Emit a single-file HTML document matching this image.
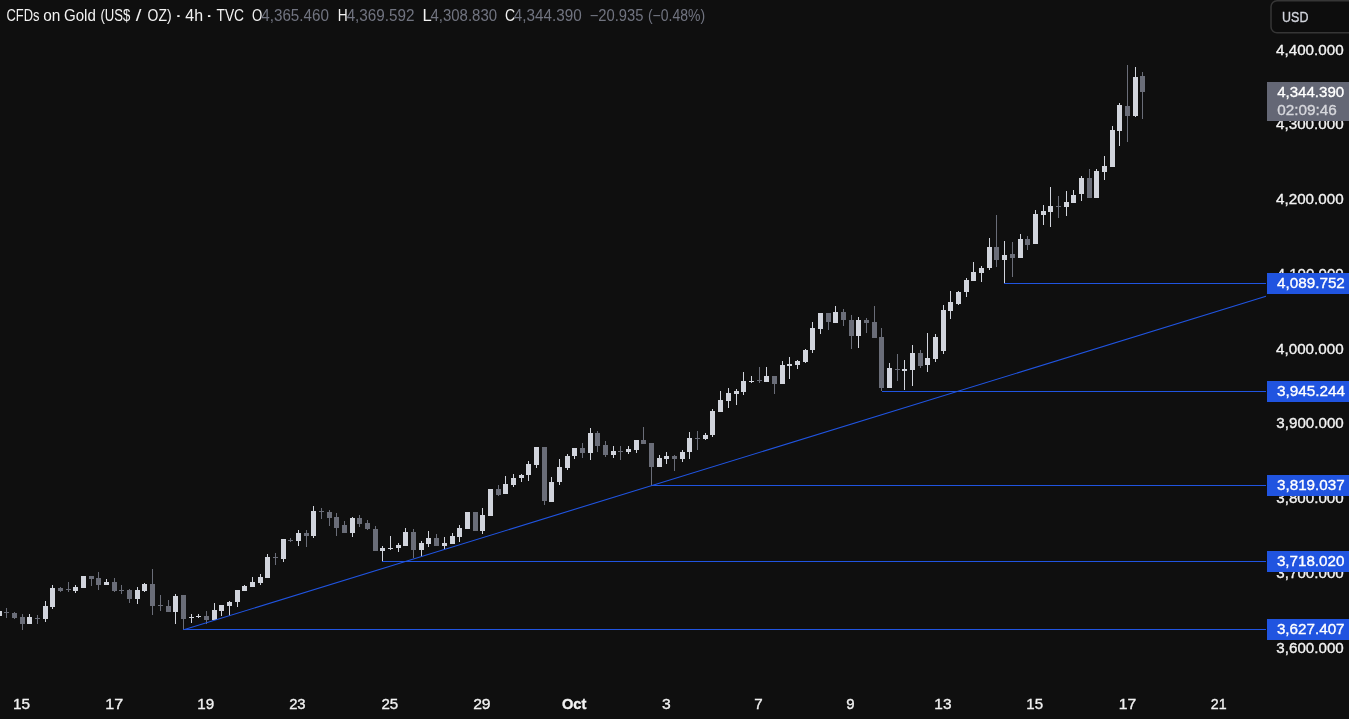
<!DOCTYPE html>
<html><head><meta charset="utf-8"><style>
html,body{margin:0;padding:0;background:#0f0f0f;width:1349px;height:719px;overflow:hidden;}
svg{position:absolute;left:0;top:0;display:block;filter:grayscale(0);}
text{font-family:"Liberation Sans", sans-serif;stroke-width:0.35px;paint-order:stroke;}
</style></head><body>
<svg width="1349" height="719" viewBox="0 0 1349 719" shape-rendering="crispEdges">
<rect x="0" y="0" width="1349" height="719" fill="#0f0f0f"/>
<g>
<rect x="-1" y="611" width="1" height="5" fill="#d1d4dc"/>
<rect x="-3" y="611" width="5" height="5" fill="#d1d4dc"/>
<rect x="6" y="608" width="1" height="10" fill="#6a6d78"/>
<rect x="4" y="612" width="5" height="1" fill="#6a6d78"/>
<rect x="14" y="612" width="1" height="7" fill="#6a6d78"/>
<rect x="12" y="613" width="5" height="5" fill="#6a6d78"/>
<rect x="22" y="614" width="1" height="16" fill="#6a6d78"/>
<rect x="20" y="617" width="5" height="7" fill="#6a6d78"/>
<rect x="29" y="614" width="1" height="10" fill="#d1d4dc"/>
<rect x="27" y="617" width="5" height="7" fill="#d1d4dc"/>
<rect x="37" y="615" width="1" height="9" fill="#6a6d78"/>
<rect x="35" y="618" width="5" height="1" fill="#6a6d78"/>
<rect x="45" y="601" width="1" height="21" fill="#d1d4dc"/>
<rect x="43" y="606" width="5" height="13" fill="#d1d4dc"/>
<rect x="52" y="585" width="1" height="24" fill="#d1d4dc"/>
<rect x="50" y="588" width="5" height="19" fill="#d1d4dc"/>
<rect x="60" y="587" width="1" height="5" fill="#6a6d78"/>
<rect x="58" y="588" width="5" height="3" fill="#6a6d78"/>
<rect x="68" y="582" width="1" height="10" fill="#6a6d78"/>
<rect x="66" y="589" width="5" height="1" fill="#6a6d78"/>
<rect x="75" y="585" width="1" height="8" fill="#d1d4dc"/>
<rect x="73" y="587" width="5" height="4" fill="#d1d4dc"/>
<rect x="83" y="576" width="1" height="12" fill="#d1d4dc"/>
<rect x="81" y="576" width="5" height="12" fill="#d1d4dc"/>
<rect x="91" y="576" width="1" height="10" fill="#6a6d78"/>
<rect x="89" y="576" width="5" height="3" fill="#6a6d78"/>
<rect x="98" y="572" width="1" height="18" fill="#6a6d78"/>
<rect x="96" y="578" width="5" height="7" fill="#6a6d78"/>
<rect x="106" y="579" width="1" height="6" fill="#d1d4dc"/>
<rect x="104" y="582" width="5" height="3" fill="#d1d4dc"/>
<rect x="114" y="578" width="1" height="14" fill="#6a6d78"/>
<rect x="112" y="582" width="5" height="9" fill="#6a6d78"/>
<rect x="121" y="585" width="1" height="9" fill="#6a6d78"/>
<rect x="119" y="590" width="5" height="1" fill="#6a6d78"/>
<rect x="129" y="589" width="1" height="14" fill="#6a6d78"/>
<rect x="127" y="590" width="5" height="9" fill="#6a6d78"/>
<rect x="137" y="587" width="1" height="17" fill="#d1d4dc"/>
<rect x="135" y="590" width="5" height="9" fill="#d1d4dc"/>
<rect x="144" y="583" width="1" height="9" fill="#d1d4dc"/>
<rect x="142" y="584" width="5" height="7" fill="#d1d4dc"/>
<rect x="152" y="569" width="1" height="46" fill="#6a6d78"/>
<rect x="150" y="584" width="5" height="22" fill="#6a6d78"/>
<rect x="160" y="595" width="1" height="16" fill="#6a6d78"/>
<rect x="158" y="605" width="5" height="1" fill="#6a6d78"/>
<rect x="168" y="600" width="1" height="12" fill="#6a6d78"/>
<rect x="166" y="606" width="5" height="6" fill="#6a6d78"/>
<rect x="175" y="594" width="1" height="30" fill="#d1d4dc"/>
<rect x="173" y="596" width="5" height="16" fill="#d1d4dc"/>
<rect x="183" y="595" width="1" height="35" fill="#6a6d78"/>
<rect x="181" y="595" width="5" height="24" fill="#6a6d78"/>
<rect x="191" y="614" width="1" height="9" fill="#d1d4dc"/>
<rect x="189" y="617" width="5" height="1" fill="#d1d4dc"/>
<rect x="198" y="614" width="1" height="4" fill="#d1d4dc"/>
<rect x="196" y="616" width="5" height="1" fill="#d1d4dc"/>
<rect x="206" y="611" width="1" height="13" fill="#6a6d78"/>
<rect x="204" y="616" width="5" height="4" fill="#6a6d78"/>
<rect x="214" y="603" width="1" height="17" fill="#d1d4dc"/>
<rect x="212" y="610" width="5" height="10" fill="#d1d4dc"/>
<rect x="221" y="605" width="1" height="11" fill="#d1d4dc"/>
<rect x="219" y="605" width="5" height="6" fill="#d1d4dc"/>
<rect x="229" y="601" width="1" height="15" fill="#d1d4dc"/>
<rect x="227" y="602" width="5" height="4" fill="#d1d4dc"/>
<rect x="237" y="590" width="1" height="17" fill="#d1d4dc"/>
<rect x="235" y="590" width="5" height="12" fill="#d1d4dc"/>
<rect x="244" y="585" width="1" height="6" fill="#d1d4dc"/>
<rect x="242" y="586" width="5" height="5" fill="#d1d4dc"/>
<rect x="252" y="577" width="1" height="10" fill="#d1d4dc"/>
<rect x="250" y="582" width="5" height="5" fill="#d1d4dc"/>
<rect x="260" y="574" width="1" height="11" fill="#d1d4dc"/>
<rect x="258" y="577" width="5" height="6" fill="#d1d4dc"/>
<rect x="267" y="554" width="1" height="24" fill="#d1d4dc"/>
<rect x="265" y="557" width="5" height="21" fill="#d1d4dc"/>
<rect x="275" y="553" width="1" height="12" fill="#6a6d78"/>
<rect x="273" y="557" width="5" height="1" fill="#6a6d78"/>
<rect x="283" y="539" width="1" height="23" fill="#d1d4dc"/>
<rect x="281" y="539" width="5" height="20" fill="#d1d4dc"/>
<rect x="290" y="538" width="1" height="4" fill="#6a6d78"/>
<rect x="288" y="540" width="5" height="1" fill="#6a6d78"/>
<rect x="298" y="530" width="1" height="16" fill="#d1d4dc"/>
<rect x="296" y="533" width="5" height="8" fill="#d1d4dc"/>
<rect x="306" y="530" width="1" height="17" fill="#6a6d78"/>
<rect x="304" y="533" width="5" height="3" fill="#6a6d78"/>
<rect x="313" y="506" width="1" height="32" fill="#d1d4dc"/>
<rect x="311" y="511" width="5" height="25" fill="#d1d4dc"/>
<rect x="321" y="508" width="1" height="11" fill="#6a6d78"/>
<rect x="319" y="511" width="5" height="1" fill="#6a6d78"/>
<rect x="329" y="510" width="1" height="16" fill="#6a6d78"/>
<rect x="327" y="512" width="5" height="6" fill="#6a6d78"/>
<rect x="336" y="513" width="1" height="23" fill="#6a6d78"/>
<rect x="334" y="517" width="5" height="11" fill="#6a6d78"/>
<rect x="344" y="521" width="1" height="12" fill="#6a6d78"/>
<rect x="342" y="525" width="5" height="8" fill="#6a6d78"/>
<rect x="352" y="517" width="1" height="20" fill="#d1d4dc"/>
<rect x="350" y="518" width="5" height="15" fill="#d1d4dc"/>
<rect x="359" y="515" width="1" height="12" fill="#6a6d78"/>
<rect x="357" y="518" width="5" height="6" fill="#6a6d78"/>
<rect x="367" y="520" width="1" height="10" fill="#6a6d78"/>
<rect x="365" y="523" width="5" height="6" fill="#6a6d78"/>
<rect x="375" y="526" width="1" height="25" fill="#6a6d78"/>
<rect x="373" y="529" width="5" height="22" fill="#6a6d78"/>
<rect x="382" y="546" width="1" height="15" fill="#d1d4dc"/>
<rect x="380" y="548" width="5" height="3" fill="#d1d4dc"/>
<rect x="390" y="536" width="1" height="14" fill="#d1d4dc"/>
<rect x="388" y="548" width="5" height="1" fill="#d1d4dc"/>
<rect x="398" y="543" width="1" height="9" fill="#d1d4dc"/>
<rect x="396" y="545" width="5" height="3" fill="#d1d4dc"/>
<rect x="405" y="528" width="1" height="18" fill="#d1d4dc"/>
<rect x="403" y="532" width="5" height="14" fill="#d1d4dc"/>
<rect x="413" y="529" width="1" height="29" fill="#6a6d78"/>
<rect x="411" y="532" width="5" height="18" fill="#6a6d78"/>
<rect x="421" y="541" width="1" height="16" fill="#d1d4dc"/>
<rect x="419" y="543" width="5" height="7" fill="#d1d4dc"/>
<rect x="428" y="531" width="1" height="16" fill="#d1d4dc"/>
<rect x="426" y="538" width="5" height="6" fill="#d1d4dc"/>
<rect x="436" y="534" width="1" height="12" fill="#6a6d78"/>
<rect x="434" y="538" width="5" height="8" fill="#6a6d78"/>
<rect x="444" y="537" width="1" height="12" fill="#d1d4dc"/>
<rect x="442" y="543" width="5" height="3" fill="#d1d4dc"/>
<rect x="452" y="533" width="1" height="11" fill="#d1d4dc"/>
<rect x="450" y="536" width="5" height="8" fill="#d1d4dc"/>
<rect x="459" y="525" width="1" height="17" fill="#d1d4dc"/>
<rect x="457" y="528" width="5" height="9" fill="#d1d4dc"/>
<rect x="467" y="512" width="1" height="17" fill="#d1d4dc"/>
<rect x="465" y="512" width="5" height="17" fill="#d1d4dc"/>
<rect x="475" y="512" width="1" height="19" fill="#6a6d78"/>
<rect x="473" y="512" width="5" height="19" fill="#6a6d78"/>
<rect x="482" y="508" width="1" height="26" fill="#d1d4dc"/>
<rect x="480" y="515" width="5" height="16" fill="#d1d4dc"/>
<rect x="490" y="489" width="1" height="27" fill="#d1d4dc"/>
<rect x="488" y="489" width="5" height="27" fill="#d1d4dc"/>
<rect x="498" y="485" width="1" height="11" fill="#6a6d78"/>
<rect x="496" y="489" width="5" height="6" fill="#6a6d78"/>
<rect x="505" y="476" width="1" height="18" fill="#d1d4dc"/>
<rect x="503" y="484" width="5" height="10" fill="#d1d4dc"/>
<rect x="513" y="474" width="1" height="13" fill="#d1d4dc"/>
<rect x="511" y="478" width="5" height="7" fill="#d1d4dc"/>
<rect x="521" y="474" width="1" height="8" fill="#d1d4dc"/>
<rect x="519" y="475" width="5" height="3" fill="#d1d4dc"/>
<rect x="528" y="461" width="1" height="20" fill="#d1d4dc"/>
<rect x="526" y="464" width="5" height="11" fill="#d1d4dc"/>
<rect x="536" y="447" width="1" height="21" fill="#d1d4dc"/>
<rect x="534" y="447" width="5" height="18" fill="#d1d4dc"/>
<rect x="544" y="447" width="1" height="58" fill="#6a6d78"/>
<rect x="542" y="447" width="5" height="54" fill="#6a6d78"/>
<rect x="551" y="477" width="1" height="25" fill="#d1d4dc"/>
<rect x="549" y="482" width="5" height="20" fill="#d1d4dc"/>
<rect x="559" y="459" width="1" height="26" fill="#d1d4dc"/>
<rect x="557" y="467" width="5" height="15" fill="#d1d4dc"/>
<rect x="567" y="454" width="1" height="16" fill="#d1d4dc"/>
<rect x="565" y="456" width="5" height="12" fill="#d1d4dc"/>
<rect x="574" y="448" width="1" height="11" fill="#d1d4dc"/>
<rect x="572" y="448" width="5" height="8" fill="#d1d4dc"/>
<rect x="582" y="443" width="1" height="15" fill="#6a6d78"/>
<rect x="580" y="448" width="5" height="5" fill="#6a6d78"/>
<rect x="590" y="428" width="1" height="32" fill="#d1d4dc"/>
<rect x="588" y="433" width="5" height="20" fill="#d1d4dc"/>
<rect x="597" y="431" width="1" height="21" fill="#6a6d78"/>
<rect x="595" y="433" width="5" height="13" fill="#6a6d78"/>
<rect x="605" y="441" width="1" height="16" fill="#6a6d78"/>
<rect x="603" y="445" width="5" height="10" fill="#6a6d78"/>
<rect x="613" y="446" width="1" height="12" fill="#d1d4dc"/>
<rect x="611" y="451" width="5" height="4" fill="#d1d4dc"/>
<rect x="620" y="446" width="1" height="14" fill="#6a6d78"/>
<rect x="618" y="451" width="5" height="1" fill="#6a6d78"/>
<rect x="628" y="446" width="1" height="8" fill="#d1d4dc"/>
<rect x="626" y="449" width="5" height="3" fill="#d1d4dc"/>
<rect x="636" y="440" width="1" height="13" fill="#d1d4dc"/>
<rect x="634" y="440" width="5" height="10" fill="#d1d4dc"/>
<rect x="643" y="427" width="1" height="17" fill="#6a6d78"/>
<rect x="641" y="440" width="5" height="4" fill="#6a6d78"/>
<rect x="651" y="443" width="1" height="42" fill="#6a6d78"/>
<rect x="649" y="443" width="5" height="24" fill="#6a6d78"/>
<rect x="659" y="455" width="1" height="12" fill="#d1d4dc"/>
<rect x="657" y="458" width="5" height="9" fill="#d1d4dc"/>
<rect x="666" y="452" width="1" height="12" fill="#d1d4dc"/>
<rect x="664" y="456" width="5" height="3" fill="#d1d4dc"/>
<rect x="674" y="455" width="1" height="16" fill="#6a6d78"/>
<rect x="672" y="456" width="5" height="3" fill="#6a6d78"/>
<rect x="682" y="450" width="1" height="12" fill="#d1d4dc"/>
<rect x="680" y="452" width="5" height="7" fill="#d1d4dc"/>
<rect x="689" y="432" width="1" height="27" fill="#d1d4dc"/>
<rect x="687" y="438" width="5" height="14" fill="#d1d4dc"/>
<rect x="697" y="431" width="1" height="19" fill="#6a6d78"/>
<rect x="695" y="438" width="5" height="1" fill="#6a6d78"/>
<rect x="705" y="433" width="1" height="7" fill="#d1d4dc"/>
<rect x="703" y="435" width="5" height="4" fill="#d1d4dc"/>
<rect x="712" y="409" width="1" height="28" fill="#d1d4dc"/>
<rect x="710" y="411" width="5" height="24" fill="#d1d4dc"/>
<rect x="720" y="391" width="1" height="21" fill="#d1d4dc"/>
<rect x="718" y="400" width="5" height="12" fill="#d1d4dc"/>
<rect x="728" y="388" width="1" height="20" fill="#d1d4dc"/>
<rect x="726" y="393" width="5" height="8" fill="#d1d4dc"/>
<rect x="736" y="389" width="1" height="16" fill="#d1d4dc"/>
<rect x="734" y="391" width="5" height="3" fill="#d1d4dc"/>
<rect x="743" y="372" width="1" height="23" fill="#d1d4dc"/>
<rect x="741" y="381" width="5" height="11" fill="#d1d4dc"/>
<rect x="751" y="376" width="1" height="7" fill="#d1d4dc"/>
<rect x="749" y="381" width="5" height="1" fill="#d1d4dc"/>
<rect x="759" y="367" width="1" height="16" fill="#6a6d78"/>
<rect x="757" y="380" width="5" height="1" fill="#6a6d78"/>
<rect x="766" y="367" width="1" height="15" fill="#d1d4dc"/>
<rect x="764" y="376" width="5" height="6" fill="#d1d4dc"/>
<rect x="774" y="376" width="1" height="18" fill="#6a6d78"/>
<rect x="772" y="376" width="5" height="8" fill="#6a6d78"/>
<rect x="782" y="361" width="1" height="23" fill="#d1d4dc"/>
<rect x="780" y="365" width="5" height="19" fill="#d1d4dc"/>
<rect x="789" y="357" width="1" height="22" fill="#d1d4dc"/>
<rect x="787" y="364" width="5" height="2" fill="#d1d4dc"/>
<rect x="797" y="360" width="1" height="9" fill="#d1d4dc"/>
<rect x="795" y="361" width="5" height="4" fill="#d1d4dc"/>
<rect x="805" y="349" width="1" height="14" fill="#d1d4dc"/>
<rect x="803" y="350" width="5" height="12" fill="#d1d4dc"/>
<rect x="812" y="322" width="1" height="31" fill="#d1d4dc"/>
<rect x="810" y="328" width="5" height="22" fill="#d1d4dc"/>
<rect x="820" y="313" width="1" height="21" fill="#d1d4dc"/>
<rect x="818" y="313" width="5" height="16" fill="#d1d4dc"/>
<rect x="828" y="313" width="1" height="17" fill="#6a6d78"/>
<rect x="826" y="313" width="5" height="9" fill="#6a6d78"/>
<rect x="835" y="306" width="1" height="17" fill="#d1d4dc"/>
<rect x="833" y="312" width="5" height="11" fill="#d1d4dc"/>
<rect x="843" y="309" width="1" height="17" fill="#6a6d78"/>
<rect x="841" y="312" width="5" height="8" fill="#6a6d78"/>
<rect x="851" y="315" width="1" height="34" fill="#6a6d78"/>
<rect x="849" y="320" width="5" height="16" fill="#6a6d78"/>
<rect x="858" y="317" width="1" height="31" fill="#d1d4dc"/>
<rect x="856" y="320" width="5" height="16" fill="#d1d4dc"/>
<rect x="866" y="318" width="1" height="15" fill="#6a6d78"/>
<rect x="864" y="320" width="5" height="3" fill="#6a6d78"/>
<rect x="874" y="306" width="1" height="32" fill="#6a6d78"/>
<rect x="872" y="322" width="5" height="16" fill="#6a6d78"/>
<rect x="881" y="328" width="1" height="63" fill="#6a6d78"/>
<rect x="879" y="337" width="5" height="51" fill="#6a6d78"/>
<rect x="889" y="363" width="1" height="25" fill="#d1d4dc"/>
<rect x="887" y="368" width="5" height="20" fill="#d1d4dc"/>
<rect x="897" y="354" width="1" height="27" fill="#6a6d78"/>
<rect x="895" y="369" width="5" height="1" fill="#6a6d78"/>
<rect x="904" y="360" width="1" height="30" fill="#d1d4dc"/>
<rect x="902" y="369" width="5" height="2" fill="#d1d4dc"/>
<rect x="912" y="345" width="1" height="41" fill="#d1d4dc"/>
<rect x="910" y="353" width="5" height="17" fill="#d1d4dc"/>
<rect x="920" y="350" width="1" height="18" fill="#6a6d78"/>
<rect x="918" y="353" width="5" height="13" fill="#6a6d78"/>
<rect x="927" y="333" width="1" height="39" fill="#d1d4dc"/>
<rect x="925" y="358" width="5" height="7" fill="#d1d4dc"/>
<rect x="935" y="334" width="1" height="28" fill="#d1d4dc"/>
<rect x="933" y="337" width="5" height="22" fill="#d1d4dc"/>
<rect x="943" y="305" width="1" height="49" fill="#d1d4dc"/>
<rect x="941" y="310" width="5" height="41" fill="#d1d4dc"/>
<rect x="950" y="291" width="1" height="28" fill="#d1d4dc"/>
<rect x="948" y="302" width="5" height="9" fill="#d1d4dc"/>
<rect x="958" y="291" width="1" height="14" fill="#d1d4dc"/>
<rect x="956" y="292" width="5" height="12" fill="#d1d4dc"/>
<rect x="966" y="278" width="1" height="19" fill="#d1d4dc"/>
<rect x="964" y="280" width="5" height="12" fill="#d1d4dc"/>
<rect x="973" y="262" width="1" height="19" fill="#d1d4dc"/>
<rect x="971" y="272" width="5" height="9" fill="#d1d4dc"/>
<rect x="981" y="266" width="1" height="16" fill="#d1d4dc"/>
<rect x="979" y="268" width="5" height="5" fill="#d1d4dc"/>
<rect x="989" y="238" width="1" height="32" fill="#d1d4dc"/>
<rect x="987" y="247" width="5" height="21" fill="#d1d4dc"/>
<rect x="996" y="215" width="1" height="52" fill="#6a6d78"/>
<rect x="994" y="247" width="5" height="13" fill="#6a6d78"/>
<rect x="1004" y="241" width="1" height="42" fill="#d1d4dc"/>
<rect x="1002" y="255" width="5" height="5" fill="#d1d4dc"/>
<rect x="1012" y="242" width="1" height="35" fill="#6a6d78"/>
<rect x="1010" y="254" width="5" height="4" fill="#6a6d78"/>
<rect x="1020" y="234" width="1" height="24" fill="#d1d4dc"/>
<rect x="1018" y="239" width="5" height="19" fill="#d1d4dc"/>
<rect x="1027" y="236" width="1" height="14" fill="#6a6d78"/>
<rect x="1025" y="239" width="5" height="6" fill="#6a6d78"/>
<rect x="1035" y="210" width="1" height="34" fill="#d1d4dc"/>
<rect x="1033" y="214" width="5" height="30" fill="#d1d4dc"/>
<rect x="1043" y="205" width="1" height="20" fill="#d1d4dc"/>
<rect x="1041" y="211" width="5" height="4" fill="#d1d4dc"/>
<rect x="1050" y="187" width="1" height="40" fill="#d1d4dc"/>
<rect x="1048" y="206" width="5" height="6" fill="#d1d4dc"/>
<rect x="1058" y="196" width="1" height="22" fill="#6a6d78"/>
<rect x="1056" y="206" width="5" height="1" fill="#6a6d78"/>
<rect x="1066" y="191" width="1" height="25" fill="#d1d4dc"/>
<rect x="1064" y="202" width="5" height="5" fill="#d1d4dc"/>
<rect x="1073" y="190" width="1" height="13" fill="#d1d4dc"/>
<rect x="1071" y="195" width="5" height="8" fill="#d1d4dc"/>
<rect x="1081" y="176" width="1" height="25" fill="#d1d4dc"/>
<rect x="1079" y="178" width="5" height="16" fill="#d1d4dc"/>
<rect x="1089" y="169" width="1" height="29" fill="#6a6d78"/>
<rect x="1087" y="178" width="5" height="20" fill="#6a6d78"/>
<rect x="1096" y="169" width="1" height="29" fill="#d1d4dc"/>
<rect x="1094" y="171" width="5" height="27" fill="#d1d4dc"/>
<rect x="1104" y="156" width="1" height="24" fill="#d1d4dc"/>
<rect x="1102" y="166" width="5" height="6" fill="#d1d4dc"/>
<rect x="1112" y="126" width="1" height="41" fill="#d1d4dc"/>
<rect x="1110" y="130" width="5" height="37" fill="#d1d4dc"/>
<rect x="1119" y="103" width="1" height="43" fill="#d1d4dc"/>
<rect x="1117" y="105" width="5" height="26" fill="#d1d4dc"/>
<rect x="1127" y="65" width="1" height="77" fill="#6a6d78"/>
<rect x="1125" y="106" width="5" height="10" fill="#6a6d78"/>
<rect x="1135" y="67" width="1" height="50" fill="#d1d4dc"/>
<rect x="1133" y="77" width="5" height="39" fill="#d1d4dc"/>
<rect x="1142" y="72" width="1" height="47" fill="#6a6d78"/>
<rect x="1140" y="76" width="5" height="16" fill="#6a6d78"/>
</g>
<g>
<line x1="184.5" y1="629.5" x2="1266" y2="296.3" stroke="#2054e0" stroke-width="1.1" shape-rendering="auto"/>
<rect x="1004" y="283" width="262" height="1" fill="#2054e0"/>
<rect x="882" y="391" width="384" height="1" fill="#2054e0"/>
<rect x="651" y="485" width="615" height="1" fill="#2054e0"/>
<rect x="382" y="561" width="884" height="1" fill="#2054e0"/>
<rect x="183" y="629" width="1083" height="1" fill="#2054e0"/>
</g>
<g>
<text x="6.46" y="20.6" font-size="15.6" fill="#f2f2f2" textLength="33.01" lengthAdjust="spacingAndGlyphs">CFDs</text>
<text x="43.27" y="20.6" font-size="15.6" fill="#f2f2f2" textLength="17.19" lengthAdjust="spacingAndGlyphs">on</text>
<text x="63.91" y="20.6" font-size="15.6" fill="#f2f2f2" textLength="31.88" lengthAdjust="spacingAndGlyphs">Gold</text>
<text x="100.46" y="20.6" font-size="15.6" fill="#f2f2f2" textLength="29.88" lengthAdjust="spacingAndGlyphs">(US$</text>
<text x="135.85" y="20.6" font-size="15.6" fill="#f2f2f2" textLength="5.64" lengthAdjust="spacingAndGlyphs">/</text>
<text x="147.55" y="20.6" font-size="15.6" fill="#f2f2f2" textLength="24.01" lengthAdjust="spacingAndGlyphs">OZ)</text>
<text x="174.47" y="20.6" font-size="15.6" fill="#f2f2f2" textLength="7.9" lengthAdjust="spacingAndGlyphs">·</text>
<text x="185.3" y="20.6" font-size="15.6" fill="#f2f2f2" textLength="17.82" lengthAdjust="spacingAndGlyphs">4h</text>
<text x="205.0" y="20.6" font-size="15.6" fill="#f2f2f2" textLength="8.34" lengthAdjust="spacingAndGlyphs">·</text>
<text x="216.46" y="20.6" font-size="15.6" fill="#f2f2f2" textLength="27.6" lengthAdjust="spacingAndGlyphs">TVC</text>
<text x="251.96" y="20.6" font-size="15.6" fill="#f2f2f2" textLength="10.28" lengthAdjust="spacingAndGlyphs">O</text>
<text x="261.26" y="20.6" font-size="15.6" fill="#717480" textLength="67.71" lengthAdjust="spacingAndGlyphs">4,365.460</text>
<text x="337.78" y="20.6" font-size="15.6" fill="#f2f2f2" textLength="9.94" lengthAdjust="spacingAndGlyphs">H</text>
<text x="346.63" y="20.6" font-size="15.6" fill="#717480" textLength="67.95" lengthAdjust="spacingAndGlyphs">4,369.592</text>
<text x="422.5" y="20.6" font-size="15.6" fill="#f2f2f2" textLength="9.24" lengthAdjust="spacingAndGlyphs">L</text>
<text x="430.47" y="20.6" font-size="15.6" fill="#717480" textLength="66.55" lengthAdjust="spacingAndGlyphs">4,308.830</text>
<text x="505.09" y="20.6" font-size="15.6" fill="#f2f2f2" textLength="10.09" lengthAdjust="spacingAndGlyphs">C</text>
<text x="513.75" y="20.6" font-size="15.6" fill="#717480" textLength="67.91" lengthAdjust="spacingAndGlyphs">4,344.390</text>
<text x="589.7" y="20.6" font-size="15.6" fill="#717480" textLength="53.8" lengthAdjust="spacingAndGlyphs">−20.935</text>
<text x="647.98" y="20.6" font-size="15.6" fill="#717480" textLength="57.11" lengthAdjust="spacingAndGlyphs">(−0.48%)</text>
<text x="1275.99" y="54.6" font-size="15.4" fill="#f2f2f2" stroke="#f2f2f2" textLength="67.67" lengthAdjust="spacingAndGlyphs">4,400.000</text>
<text x="1276.01" y="129.4" font-size="15.4" fill="#f2f2f2" stroke="#f2f2f2" textLength="67.65" lengthAdjust="spacingAndGlyphs">4,300.000</text>
<text x="1276.01" y="204.1" font-size="15.4" fill="#f2f2f2" stroke="#f2f2f2" textLength="67.65" lengthAdjust="spacingAndGlyphs">4,200.000</text>
<text x="1276.71" y="278.9" font-size="15.4" fill="#f2f2f2" stroke="#f2f2f2" textLength="66.95" lengthAdjust="spacingAndGlyphs">4,100.000</text>
<text x="1276.01" y="353.7" font-size="15.4" fill="#f2f2f2" stroke="#f2f2f2" textLength="67.65" lengthAdjust="spacingAndGlyphs">4,000.000</text>
<text x="1276.32" y="428.4" font-size="15.4" fill="#f2f2f2" stroke="#f2f2f2" textLength="67.44" lengthAdjust="spacingAndGlyphs">3,900.000</text>
<text x="1276.28" y="503.2" font-size="15.4" fill="#f2f2f2" stroke="#f2f2f2" textLength="67.47" lengthAdjust="spacingAndGlyphs">3,800.000</text>
<text x="1276.33" y="577.9" font-size="15.4" fill="#f2f2f2" stroke="#f2f2f2" textLength="67.42" lengthAdjust="spacingAndGlyphs">3,700.000</text>
<text x="1276.33" y="652.7" font-size="15.4" fill="#f2f2f2" stroke="#f2f2f2" textLength="67.42" lengthAdjust="spacingAndGlyphs">3,600.000</text>
<text x="13.02" y="708.8" font-size="15.4" fill="#f2f2f2" stroke="#f2f2f2" textLength="17.13" lengthAdjust="spacingAndGlyphs">15</text>
<text x="105.25" y="708.8" font-size="15.4" fill="#f2f2f2" stroke="#f2f2f2" textLength="17.94" lengthAdjust="spacingAndGlyphs">17</text>
<text x="197.27" y="708.8" font-size="15.4" fill="#f2f2f2" stroke="#f2f2f2" textLength="16.9" lengthAdjust="spacingAndGlyphs">19</text>
<text x="289.13" y="708.8" font-size="15.4" fill="#f2f2f2" stroke="#f2f2f2" textLength="16.5" lengthAdjust="spacingAndGlyphs">23</text>
<text x="381.38" y="708.8" font-size="15.4" fill="#f2f2f2" stroke="#f2f2f2" textLength="16.77" lengthAdjust="spacingAndGlyphs">25</text>
<text x="473.15" y="708.8" font-size="15.4" fill="#f2f2f2" stroke="#f2f2f2" textLength="17.45" lengthAdjust="spacingAndGlyphs">29</text>
<text x="561.98" y="708.8" font-size="15.4" fill="#f2f2f2" stroke="#f2f2f2" textLength="24.34" lengthAdjust="spacingAndGlyphs" font-weight="bold">Oct</text>
<text x="661.98" y="708.8" font-size="15.4" fill="#f2f2f2" stroke="#f2f2f2" textLength="8.72" lengthAdjust="spacingAndGlyphs">3</text>
<text x="754.13" y="708.8" font-size="15.4" fill="#f2f2f2" stroke="#f2f2f2" textLength="8.44" lengthAdjust="spacingAndGlyphs">7</text>
<text x="846.24" y="708.8" font-size="15.4" fill="#f2f2f2" stroke="#f2f2f2" textLength="8.34" lengthAdjust="spacingAndGlyphs">9</text>
<text x="934.33" y="708.8" font-size="15.4" fill="#f2f2f2" stroke="#f2f2f2" textLength="17.15" lengthAdjust="spacingAndGlyphs">13</text>
<text x="1026.37" y="708.8" font-size="15.4" fill="#f2f2f2" stroke="#f2f2f2" textLength="16.72" lengthAdjust="spacingAndGlyphs">15</text>
<text x="1118.89" y="708.8" font-size="15.4" fill="#f2f2f2" stroke="#f2f2f2" textLength="17.49" lengthAdjust="spacingAndGlyphs">17</text>
<text x="1210.79" y="708.8" font-size="15.4" fill="#f2f2f2" stroke="#f2f2f2" textLength="15.83" lengthAdjust="spacingAndGlyphs">21</text>
</g>
<rect x="1267" y="273" width="82" height="21" fill="#2054e0"/>
<rect x="1267" y="381" width="82" height="21" fill="#2054e0"/>
<rect x="1267" y="475" width="82" height="21" fill="#2054e0"/>
<rect x="1267" y="551" width="82" height="21" fill="#2054e0"/>
<rect x="1267" y="619" width="82" height="21" fill="#2054e0"/>
<g>
<text x="1277.01" y="288" font-size="15.4" fill="#ffffff" stroke="#ffffff" textLength="67.86" lengthAdjust="spacingAndGlyphs">4,089.752</text>
<text x="1276.88" y="396" font-size="15.4" fill="#ffffff" stroke="#ffffff" textLength="68.24" lengthAdjust="spacingAndGlyphs">3,945.244</text>
<text x="1277.0" y="490" font-size="15.4" fill="#ffffff" stroke="#ffffff" textLength="67.67" lengthAdjust="spacingAndGlyphs">3,819.037</text>
<text x="1276.93" y="566" font-size="15.4" fill="#ffffff" stroke="#ffffff" textLength="67.48" lengthAdjust="spacingAndGlyphs">3,718.020</text>
<text x="1276.9" y="634" font-size="15.4" fill="#ffffff" stroke="#ffffff" textLength="67.71" lengthAdjust="spacingAndGlyphs">3,627.407</text>
</g>
<rect x="1267" y="82" width="82" height="39" fill="#646775"/>
<text x="1277.15" y="96.8" font-size="15.4" fill="#ffffff" stroke="#ffffff" textLength="67.06" lengthAdjust="spacingAndGlyphs">4,344.390</text>
<text x="1277.13" y="114.75" font-size="15.4" fill="#d6d7dc" stroke="#d6d7dc" textLength="59.55" lengthAdjust="spacingAndGlyphs">02:09:46</text>
<rect x="1271" y="0.75" width="90" height="32" rx="6" ry="6" fill="#0d0d0d" stroke="#363636" stroke-width="1.5" shape-rendering="auto"/>
<text x="1282.08" y="22.0" font-size="15.5" fill="#d1d4dc" stroke="#d1d4dc" textLength="26.32" lengthAdjust="spacingAndGlyphs">USD</text>
</svg>
</body></html>
